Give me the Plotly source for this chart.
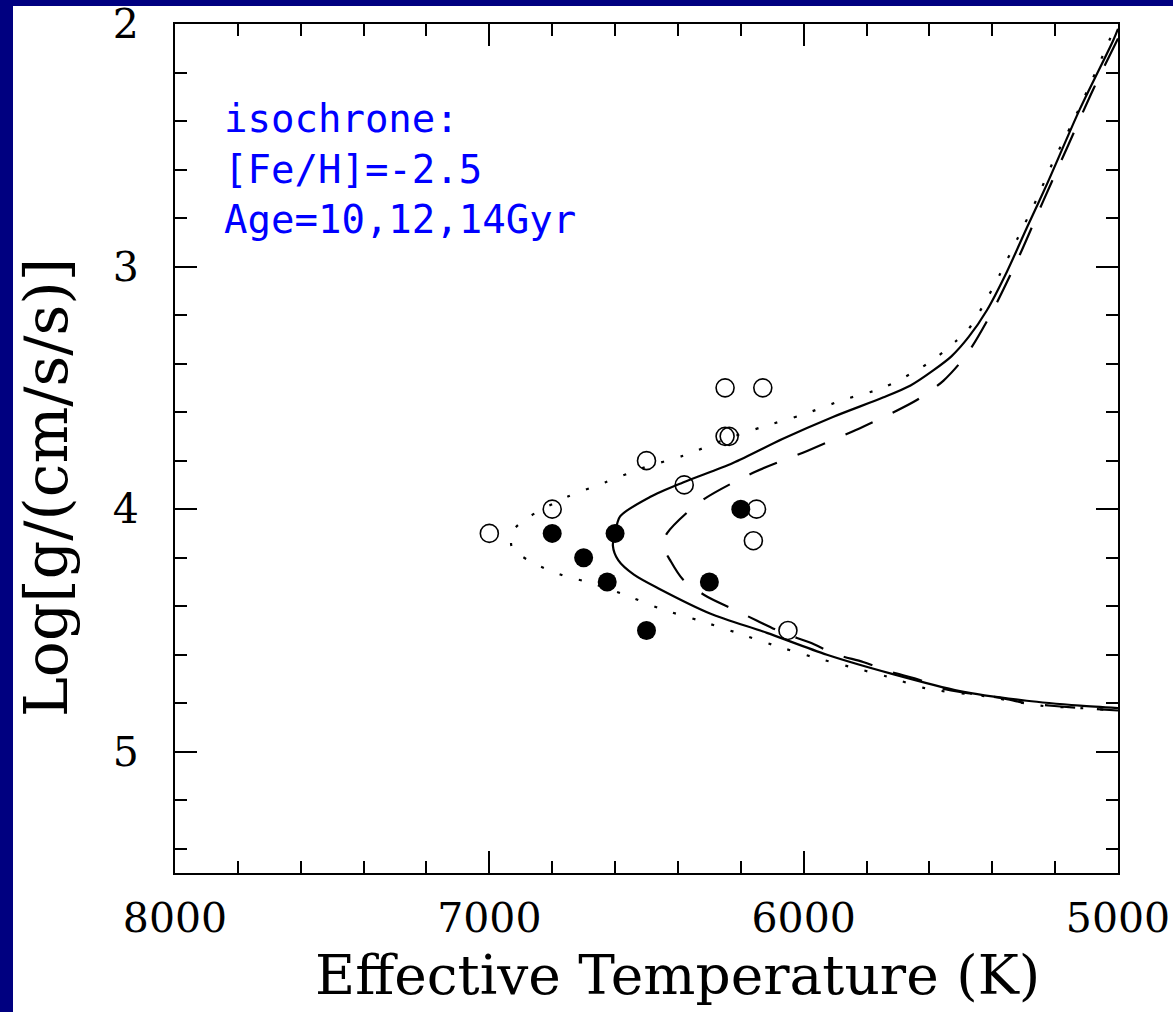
import plotly.graph_objects as go

# ---------------- data ----------------
# Isochrone 12 Gyr (solid)
teff_12 = [5000, 5016, 5121, 5226, 5290, 5353, 5417, 5475, 5530, 5590, 5660, 5748, 5907,
           6066, 6225, 6384, 6489, 6584, 6600, 6607, 6590, 6540, 6457, 6298, 6117, 5926,
           5716, 5503, 5290, 5121, 5000]
logg_12 = [2.02, 2.07, 2.35, 2.66, 2.84, 3.02, 3.18, 3.29, 3.37, 3.43, 3.49, 3.54, 3.62,
           3.71, 3.81, 3.89, 3.95, 4.03, 4.10, 4.15, 4.21, 4.27, 4.33, 4.43, 4.51, 4.60,
           4.68, 4.75, 4.79, 4.81, 4.82]

# Isochrone 10 Gyr (dotted)
teff_10 = [5000, 5035, 5089, 5146, 5207, 5258, 5318, 5375, 5433, 5477, 5518, 5573, 5630,
           5748, 5875, 6002, 6129, 6244, 6384, 6511, 6632, 6753, 6871, 6925, 6928, 6877,
           6813, 6750, 6689, 6575, 6457, 6330, 6212, 6097, 5970, 5853, 5735, 5608, 5430,
           5248, 5121, 5000]
logg_10 = [1.98, 2.09, 2.25, 2.41, 2.57, 2.72, 2.88, 3.03, 3.17, 3.26, 3.31, 3.37, 3.42,
           3.50, 3.55, 3.61, 3.66, 3.71, 3.78, 3.83, 3.89, 3.95, 4.03, 4.09, 4.16, 4.21,
           4.25, 4.28, 4.30, 4.35, 4.41, 4.46, 4.51, 4.56, 4.61, 4.65, 4.69, 4.74, 4.77,
           4.81, 4.82, 4.83]

# Isochrone 14 Gyr (dashed)
teff_14 = [5000, 5079, 5162, 5238, 5312, 5398, 5480, 5555, 5640, 5811, 5989, 6161, 6330,
           6435, 6448, 6425, 6384, 6308, 6228, 6148, 6066, 5980, 5894, 5811, 5725, 5640,
           5557, 5471, 5366, 5290, 5121, 5000]
logg_14 = [2.06, 2.27, 2.51, 2.73, 2.95, 3.18, 3.36, 3.47, 3.55, 3.66, 3.76, 3.85, 3.97,
           4.10, 4.15, 4.21, 4.29, 4.36, 4.41, 4.46, 4.51, 4.55, 4.60, 4.63, 4.67, 4.70,
           4.74, 4.76, 4.78, 4.80, 4.82, 4.83]

# Stars: open circles
open_teff = [7000, 6800, 6500, 6380, 6250, 6130, 6250, 6237, 6150, 6160, 6050]
open_logg = [4.10, 4.00, 3.80, 3.90, 3.50, 3.50, 3.70, 3.70, 4.00, 4.13, 4.50]

# Stars: filled circles
fill_teff = [6800, 6700, 6625, 6600, 6500, 6300, 6200]
fill_logg = [4.10, 4.20, 4.30, 4.10, 4.50, 4.30, 4.00]

x_ticks = [8000, 7000, 6000, 5000]
y_ticks = [2, 3, 4, 5]

x_title = "Effective Temperature (K)"
y_title = "Log[g/(cm/s/s)]"
annotation_lines = ["isochrone:", "[Fe/H]=-2.5", "Age=10,12,14Gyr"]

# ---------------- figure ----------------
fig = go.Figure()

fig.add_trace(go.Scatter(x=teff_10, y=logg_10, mode="lines",
                         line=dict(color="black", width=2.2, dash="3px,17px",
                                   shape="spline", smoothing=0.8),
                         showlegend=False, hoverinfo="skip"))
fig.add_trace(go.Scatter(x=teff_12, y=logg_12, mode="lines",
                         line=dict(color="black", width=2.2, shape="spline", smoothing=0.8),
                         showlegend=False, hoverinfo="skip"))
fig.add_trace(go.Scatter(x=teff_14, y=logg_14, mode="lines",
                         line=dict(color="black", width=2.2, dash="30px,22px",
                                   shape="spline", smoothing=0.8),
                         showlegend=False, hoverinfo="skip"))
fig.add_trace(go.Scatter(x=open_teff, y=open_logg, mode="markers",
                         marker=dict(symbol="circle-open", size=18, color="black",
                                     line=dict(width=1.6, color="black")),
                         showlegend=False))
fig.add_trace(go.Scatter(x=fill_teff, y=fill_logg, mode="markers",
                         marker=dict(symbol="circle", size=19, color="black"),
                         showlegend=False))

axis_common = dict(
    showgrid=False, zeroline=False, showline=True, linecolor="black", linewidth=2,
    mirror="allticks", ticks="inside", ticklen=22, tickwidth=2, tickcolor="black",
    automargin=False,
    tickfont=dict(family="DejaVu Serif", size=41, color="black"),
    minor=dict(ticks="inside", ticklen=12, tickwidth=2, tickcolor="black", showgrid=False),
)

fig.update_xaxes(
    range=[8000, 5000], tickvals=x_ticks, ticktext=[str(v) for v in x_ticks],
    minor_dtick=200, ticklabelstandoff=8, **axis_common)
fig.update_yaxes(
    range=[5.5, 2], tickvals=y_ticks, ticktext=[str(v) for v in y_ticks],
    minor_dtick=0.2, ticklabelstandoff=26, **axis_common)

# axis titles (placed as in the original, slightly off-centre)
fig.add_annotation(
    x=(677 - 175) / 943, y=(873 - 975) / 849, xref="paper", yref="paper",
    xanchor="center", yanchor="middle", text=x_title, showarrow=False,
    font=dict(family="DejaVu Serif", size=55, color="black"))
fig.add_annotation(
    x=(46 - 175) / 943, y=(873 - 488) / 849, xref="paper", yref="paper",
    xanchor="center", yanchor="middle", text=y_title, showarrow=False, textangle=-90,
    font=dict(family="DejaVu Serif", size=60, color="black"))

fig.add_annotation(
    x=0.05, y=0.918, xref="paper", yref="paper", xanchor="left", yanchor="top",
    text="<br>".join(annotation_lines), align="left", showarrow=False,
    font=dict(family="DejaVu Sans Mono", size=39, color="#0000FF"))

# navy frame strips (top and left)
fig.add_shape(type="rect", xref="paper", yref="paper",
              x0=-0.2, x1=(13 - 175) / 943, y0=-0.2, y1=1.1,
              fillcolor="#000080", line=dict(width=0), layer="above")
fig.add_shape(type="rect", xref="paper", yref="paper",
              x0=-0.2, x1=1.1, y0=(873 - 6) / 849, y1=1.1,
              fillcolor="#000080", line=dict(width=0), layer="above")

fig.update_layout(
    width=1173, height=1012,
    margin=dict(l=175, r=55, t=24, b=139, autoexpand=False),
    paper_bgcolor="white", plot_bgcolor="white",
)

fig.write_html("out.html")
